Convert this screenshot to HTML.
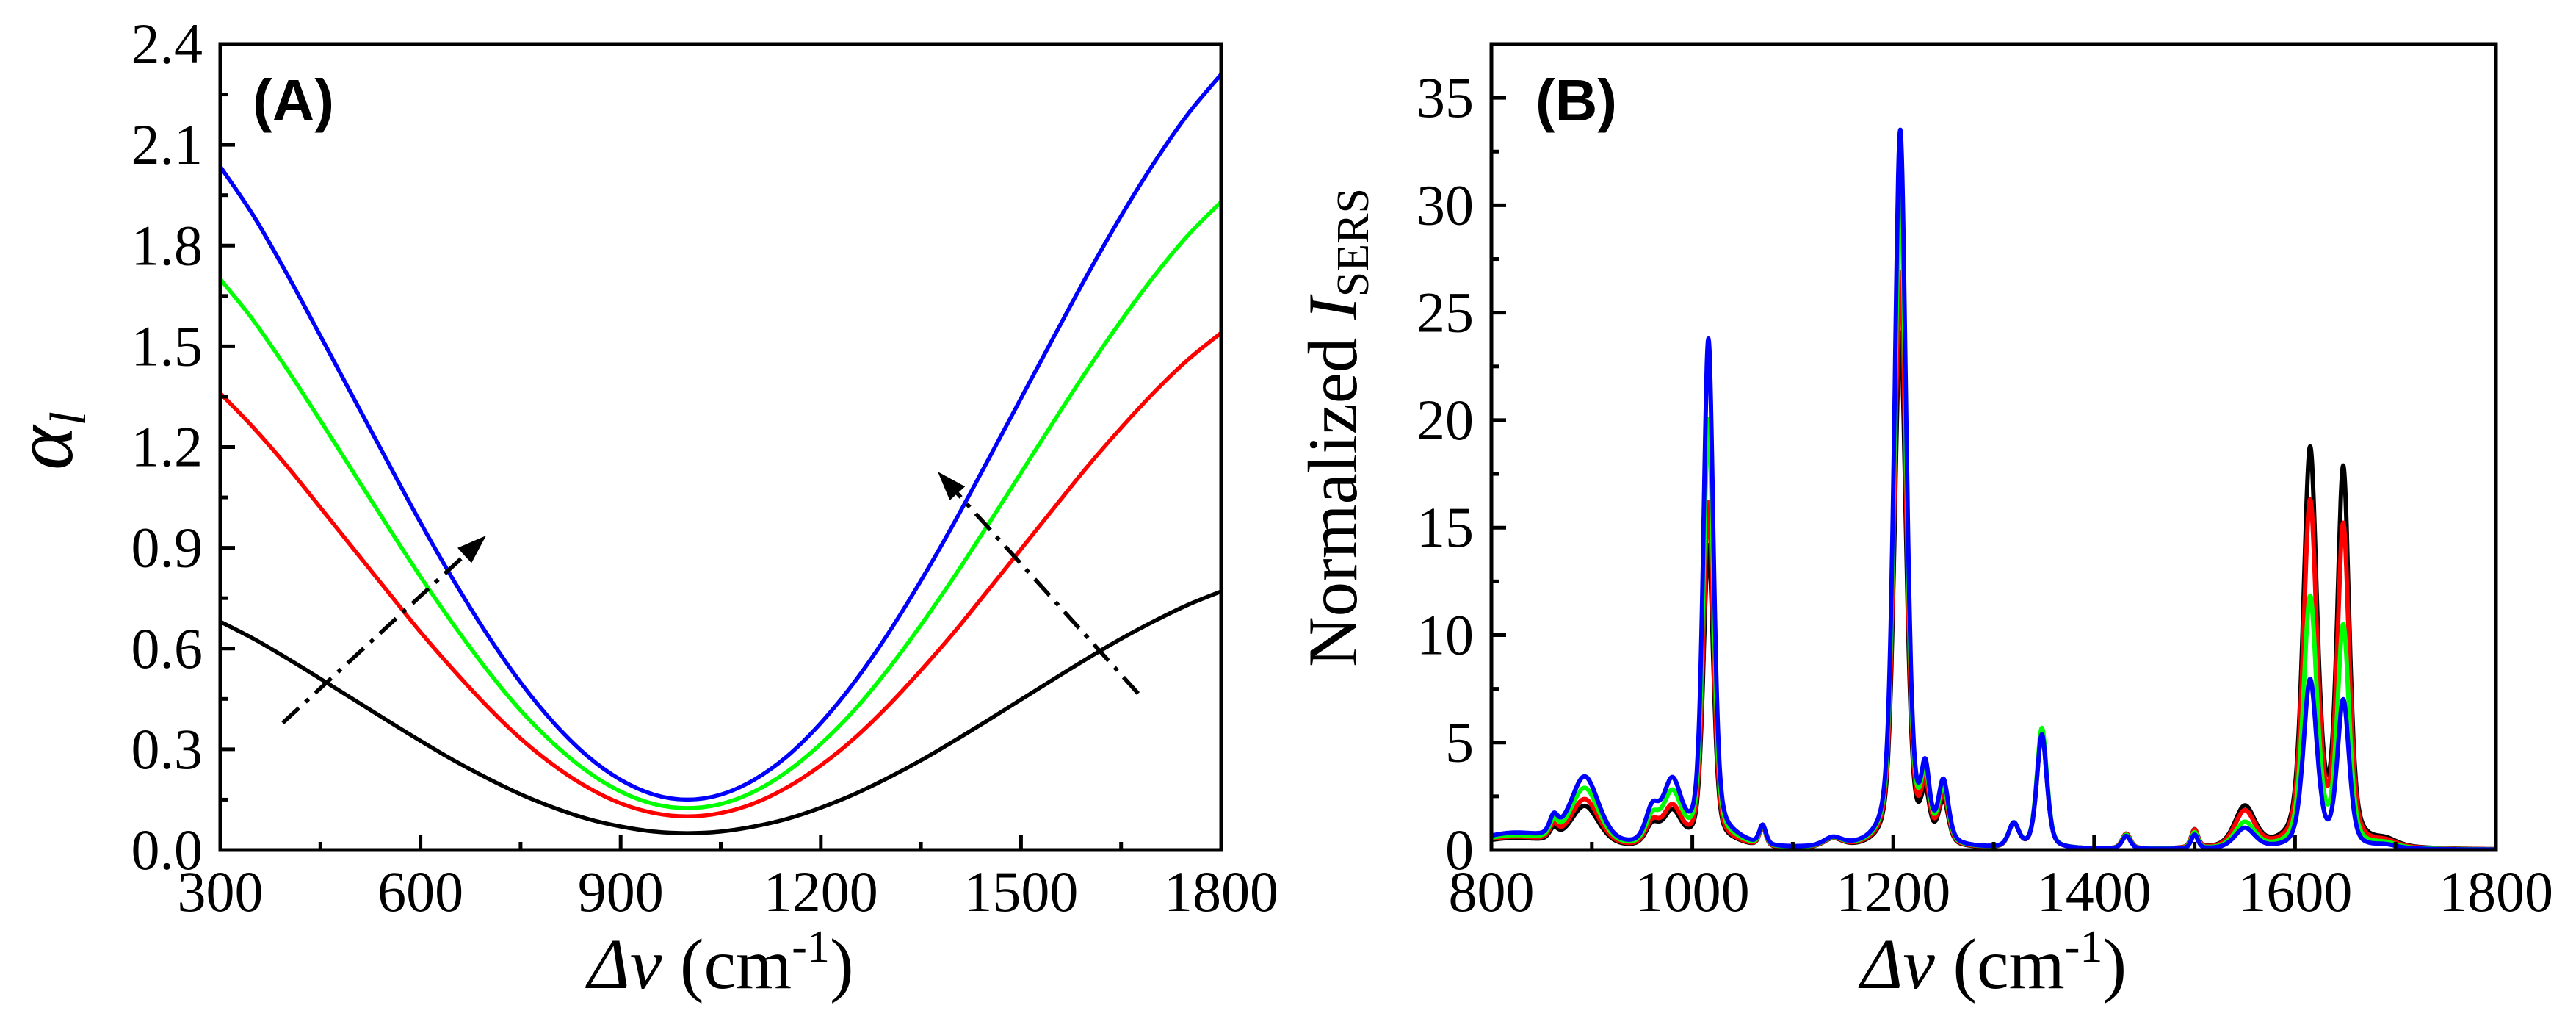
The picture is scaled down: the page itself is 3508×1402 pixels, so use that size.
<!DOCTYPE html>
<html><head><meta charset="utf-8"><style>
html,body{margin:0;padding:0;background:#fff;}
svg{display:block;}
text{font-family:"Liberation Serif",serif;fill:#000;}
</style></head><body>
<svg id="fig" width="3508" height="1402" viewBox="0 0 3508 1402" xmlns="http://www.w3.org/2000/svg">
<g id="pa"></g>
<g id="pb"></g>
</svg>
<script>
// ---------- Panel A data ----------
const aX = [300,350,400,450,500,550,600,650,700,750,800,850,900,950,1000,1050,1100,1150,1200,1250,1300,1350,1400,1450,1500,1550,1600,1650,1700,1750,1800];
const aBlack = [0.680,0.629,0.571,0.510,0.448,0.386,0.325,0.267,0.214,0.166,0.126,0.093,0.070,0.055,0.050,0.055,0.070,0.093,0.126,0.166,0.214,0.267,0.325,0.386,0.448,0.510,0.571,0.629,0.682,0.730,0.770];
const aRed   = [1.360,1.257,1.143,1.020,0.896,0.772,0.649,0.535,0.428,0.332,0.252,0.187,0.139,0.110,0.100,0.110,0.139,0.187,0.252,0.332,0.428,0.535,0.649,0.772,0.896,1.020,1.143,1.257,1.364,1.460,1.540];
const aGreen = [1.700,1.576,1.432,1.279,1.123,0.967,0.814,0.670,0.536,0.416,0.316,0.234,0.174,0.137,0.125,0.137,0.174,0.234,0.316,0.416,0.536,0.670,0.814,0.967,1.123,1.279,1.432,1.576,1.710,1.830,1.930];
const aBlue  = [2.035,1.888,1.715,1.531,1.345,1.159,0.975,0.802,0.642,0.499,0.378,0.280,0.209,0.165,0.150,0.165,0.209,0.280,0.378,0.499,0.642,0.802,0.975,1.159,1.345,1.531,1.715,1.888,2.048,2.191,2.310];
const aXTicks = [300,600,900,1200,1500,1800];
const aYTicks = ["0.0","0.3","0.6","0.9","1.2","1.5","1.8","2.1","2.4"];

// ---------- Panel B data (peak list) ----------
const bCenters = [820,862,893,960,980,1016,1040,1070,1140,1207,1232,1250,1320,1348,1432,1500,1550,1615,1648,1690];
const bWidths  = [45,5,17,8,11,6,18,4,11,7,5,6,6,6,5,4,12,8,7,14];
const bBlack = [0.5,0.5,1.9,0.9,1.6,14.0,0.2,0.9,0.4,24.0,2.1,2.0,1.1,5.3,0.7,0.85,1.9,18.4,17.4,0.3];
const bRed   = [0.55,0.6,2.2,1.0,1.8,16.0,0.2,0.9,0.4,26.8,2.4,2.2,1.1,5.4,0.7,0.85,1.7,16.0,14.8,0.25];
const bGreen = [0.6,0.7,2.7,1.2,2.4,19.8,0.25,0.9,0.4,30.5,2.8,2.5,1.1,5.6,0.65,0.75,1.2,11.6,10.2,0.2];
const bBlue  = [0.7,0.8,3.2,1.5,2.9,23.5,0.3,0.9,0.4,33.4,3.0,2.8,1.1,5.3,0.6,0.65,0.95,7.8,6.8,0.15];
const bXTicks = [800,1000,1200,1400,1600,1800];
const bYTicks = [0,5,10,15,20,25,30,35];

const NS="http://www.w3.org/2000/svg";
function mk(parent,tag,attrs){const e=document.createElementNS(NS,tag);for(const k in attrs)e.setAttribute(k,attrs[k]);parent.appendChild(e);return e;}

const T=60,B=1157;
const axL=300,axR=1663;
const ax=v=>axL+(v-300)/1500*(axR-axL);
const ay=v=>B-(v/2.4)*(B-T);
const bxL=2031,bxR=3399;
const bx=v=>bxL+(v-800)/1000*(bxR-bxL);
const by=v=>B-(v/37.5)*(B-T);

const pa=document.getElementById('pa');
const pb=document.getElementById('pb');

function catmull(pts){
  let d="M"+pts[0][0].toFixed(1)+","+pts[0][1].toFixed(1);
  for(let i=0;i<pts.length-1;i++){
    const p0=pts[i-1]||pts[i],p1=pts[i],p2=pts[i+1],p3=pts[i+2]||pts[i+1];
    const c1=[p1[0]+(p2[0]-p0[0])/6,p1[1]+(p2[1]-p0[1])/6];
    const c2=[p2[0]-(p3[0]-p1[0])/6,p2[1]-(p3[1]-p1[1])/6];
    d+="C"+c1[0].toFixed(1)+","+c1[1].toFixed(1)+" "+c2[0].toFixed(1)+","+c2[1].toFixed(1)+" "+p2[0].toFixed(1)+","+p2[1].toFixed(1);
  }
  return d;
}

const aSeries=[["black",aBlack,"#000"],["red",aRed,"#f00"],["green",aGreen,"#0f0"],["blue",aBlue,"#00f"]];
aSeries.forEach(s=>{
  const p=mk(pa,'path',{d:catmull(aX.map((x,i)=>[ax(x),ay(s[1][i])])),fill:"none",stroke:s[2],"stroke-width":5.5});
  
  
});
function arrow(g,x1,y1,x2,y2,name){
  const ang=Math.atan2(y2-y1,x2-x1),L=40,W=14;
  const bxp=x2-L*Math.cos(ang),byp=y2-L*Math.sin(ang);
  const l=mk(g,'line',{x1:x1,y1:y1,x2:bxp,y2:byp,stroke:"#000","stroke-width":5.5,"stroke-dasharray":"30 12 6 12"});
  
  
  const h=mk(g,'polygon',{points:`${x2},${y2} ${bxp+W*Math.sin(ang)},${byp-W*Math.cos(ang)} ${bxp-W*Math.sin(ang)},${byp+W*Math.cos(ang)}`,fill:"#000"});
  
  
}
arrow(pa,385,984,662,729,'arrow-left');
arrow(pa,1550,944,1277,642,'arrow-right');

function spec(h,x){let s=0;for(let i=0;i<bCenters.length;i++){const u=(x-bCenters[i])/bWidths[i];s+=h[i]*(0.55*Math.exp(-0.693*u*u)+0.45/(1+u*u));}return s;}
const bSeries=[["black",bBlack,"#000"],["red",bRed,"#f00"],["green",bGreen,"#0f0"],["blue",bBlue,"#00f"]];
bSeries.forEach(s=>{
  let d="";
  for(let x=800;x<=1800;x+=0.5){const v=Math.min(spec(s[1],x),37.5);d+=(x===800?"M":"L")+bx(x).toFixed(1)+","+by(v).toFixed(1);}
  const p=mk(pb,'path',{d:d,fill:"none",stroke:s[2],"stroke-width":6,"stroke-linejoin":"round"});
  
  
});

function frame(g,x0,x1,name){
  const r=mk(g,'rect',{x:x0,y:T,width:x1-x0,height:B-T,fill:"none",stroke:"#000","stroke-width":5});
  
  
}
frame(pa,axL,axR,'plot-frame-a');
frame(pb,bxL,bxR,'plot-frame-b');

function tick(g,x1,y1,x2,y2,name){
  const l=mk(g,'line',{x1:x1,y1:y1,x2:x2,y2:y2,stroke:"#000","stroke-width":5});
  
  
}
function label(g,x,y,txt,anchor,name,size){
  const t=mk(g,'text',{x:x,y:y,"text-anchor":anchor,"font-size":size||78});
  t.textContent=txt;
  
  
  return t;
}
aXTicks.forEach((v,i)=>{
  tick(pa,ax(v),B,ax(v),B-20,'x-tick-a');
  if(i<aXTicks.length-1) tick(pa,ax(v+150),B,ax(v+150),B-11,'x-minor-tick-a');
  label(pa,ax(v),1240,String(v),"middle",'x-tick-label-a');
});
aYTicks.forEach((s,i)=>{
  const v=parseFloat(s);
  tick(pa,axL,ay(v),axL+20,ay(v),'y-tick-a');
  if(i<aYTicks.length-1) tick(pa,axL,ay(v+0.15),axL+11,ay(v+0.15),'y-minor-tick-a');
  label(pa,axL-24,ay(v)+26,s,"end",'y-tick-label-a');
});
bXTicks.forEach((v,i)=>{
  tick(pb,bx(v),B,bx(v),B-20,'x-tick-b');
  if(i<bXTicks.length-1) tick(pb,bx(v+100),B,bx(v+100),B-11,'x-minor-tick-b');
  label(pb,bx(v),1240,String(v),"middle",'x-tick-label-b');
});
bYTicks.forEach((v)=>{
  tick(pb,bxL,by(v),bxL+20,by(v),'y-tick-b');
  tick(pb,bxL,by(v+2.5),bxL+11,by(v+2.5),'y-minor-tick-b');
  label(pb,bxL-24,by(v)+26,String(v),"end",'y-tick-label-b');
});

function xtitle(g,cx,name){
  const t=mk(g,'text',{x:cx,y:1345,"text-anchor":"middle","font-size":98});
  
  
  t.innerHTML='<tspan font-style="italic">Δv</tspan> (cm<tspan dy="-36" font-size="62">-1</tspan><tspan dy="36">)</tspan>';
}
xtitle(pa,(axL+axR)/2,'x-axis-title-a');
xtitle(pb,(bxL+bxR)/2,'x-axis-title-b');

const ya=mk(pa,'text',{transform:"translate(98,600) rotate(-90)","text-anchor":"middle","font-size":115});


ya.innerHTML='<tspan font-style="italic">α</tspan><tspan font-style="italic" font-size="70" dy="18">l</tspan>';

const yb=mk(pb,'text',{transform:"translate(1847,908) rotate(-90)","text-anchor":"start","font-size":95});


yb.innerHTML='Normalized <tspan font-style="italic">I</tspan><tspan font-size="62" dy="16">SERS</tspan>';

function plabel(g,x,txt,name){
  const t=mk(g,'text',{x:x,y:164,"font-size":80,"font-weight":"bold",style:'font-family:"Liberation Sans",sans-serif'});
  t.textContent=txt;
  
  
}
plabel(pa,344,'(A)','panel-label-a');
plabel(pb,2091,'(B)','panel-label-b');
</script>
</body></html>
